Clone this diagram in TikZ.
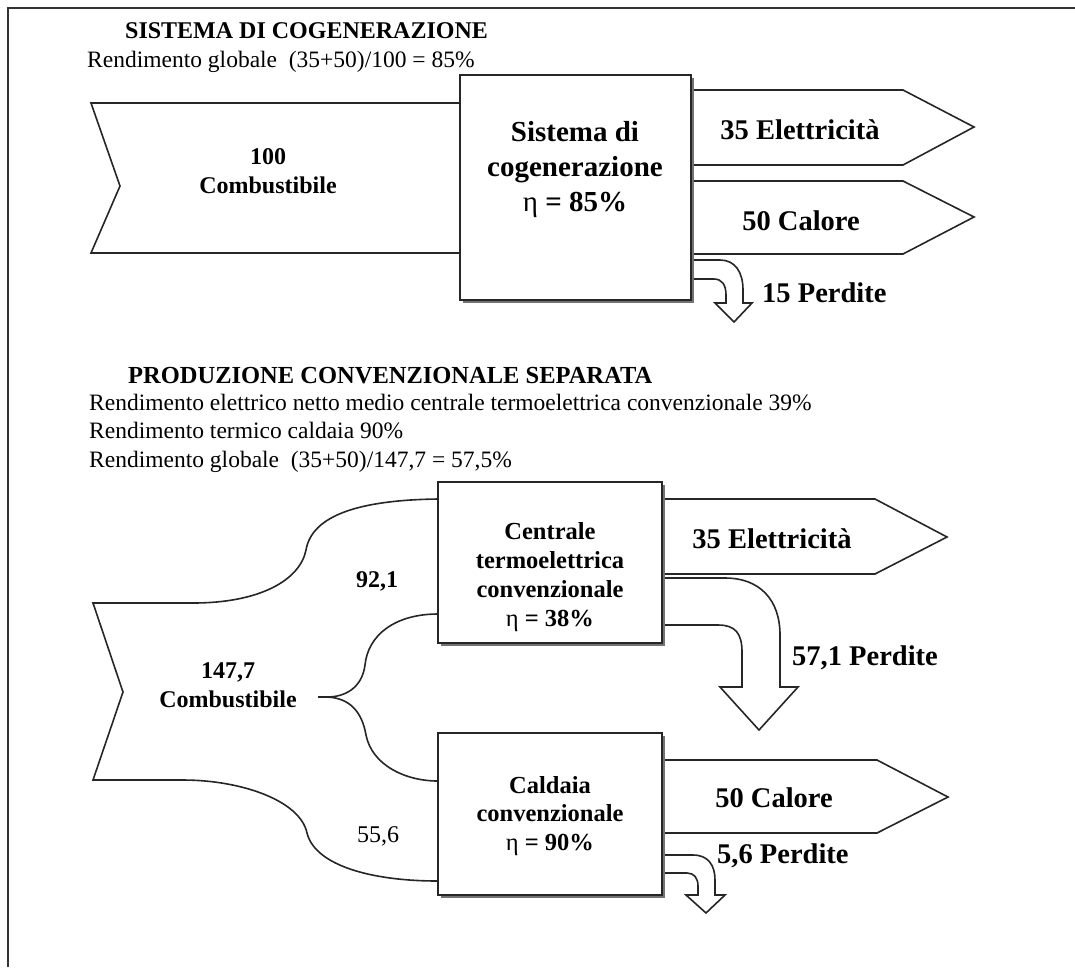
\documentclass[tikz,border=0pt]{standalone}
\usepackage{fontspec}
\setmainfont{Liberation Serif}
\usepackage{tikz}
\usetikzlibrary{positioning}
\usetikzlibrary{shadows}
\usetikzlibrary{calc}

\begin{document}
\begin{tikzpicture}[x=1pt, y=-1pt,
		band/.style={draw=black!85, line width=1.6pt, fill=white, line join=miter},
		box/.style={draw=black!85, line width=1.5pt, fill=white, inner sep=0pt,
			drop shadow={shadow xshift=2.5pt, shadow yshift=-3pt, fill=black!55, opacity=1}},
		boxtext/.style={align=center, inner sep=0pt, font=\bfseries\fontsize{24.5}{29}\selectfont},
		flowtext/.style={anchor=base, inner sep=0pt, font=\bfseries\fontsize{28.5}{34}\selectfont},
		headtext/.style={anchor=base west, inner sep=0pt, font=\bfseries\fontsize{24}{29}\selectfont},
		infotext/.style={anchor=base west, inner sep=0pt, font=\fontsize{23.5}{28}\selectfont}]
	\useasboundingbox (0,0) rectangle (1075,967);
	\draw[line width=2pt, black!80] (8,967) -- (8,8) -- (1075,8);

	\node[headtext] (head1) at (125,38) {SISTEMA DI COGENERAZIONE};
	\node[infotext] (info1) at (87,67) {Rendimento globale\ \ (35+50)/100 = 85\%};

	\draw[band] (460,103) -- (91,103) -- (120,186) -- (91,253) -- (460,253);
	\draw[band] (691,90) -- (903,90) -- (974,127) -- (903,165) -- (691,165);
	\draw[band] (691,181) -- (903,181) -- (974,217) -- (903,254) -- (691,254);
	\draw[band] (691,260) -- (720,260) .. controls (735,260) and (743,272) .. (743,290) -- (743,303)
		-- (752,303) -- (734,322) -- (715,303) -- (726,303) -- (726,295)
		.. controls (726,285) and (722,279) .. (714,279) -- (691,279);

	\node[box, minimum width=231pt, minimum height=225pt] (cogen) at (575.5,187.5) {};
	\node[boxtext, font=\bfseries\fontsize{29}{35}\selectfont] (cogentext) at (575,170) {Sistema di\\cogenerazione\\{\mdseries η} = 85\%};
	\node[boxtext, font=\bfseries\fontsize{24}{29}\selectfont] (fuel1) at (268,171) {100\\Combustibile};
	\node[flowtext] (elettr1) at (800,139) {35 Elettricità};
	\node[flowtext] (calore1) at (801,230) {50 Calore};
	\node[flowtext, anchor=base west] (perdite1) at (762,302) {15 Perdite};

	\node[headtext, font=\bfseries\fontsize{24.5}{29}\selectfont] (head2) at (128,383) {PRODUZIONE CONVENZIONALE SEPARATA};
	\node[infotext] (info2) at (89,410) {Rendimento elettrico netto medio centrale termoelettrica convenzionale 39\%};
	\node[infotext] (info3) at (89,438) {Rendimento termico caldaia 90\%};
	\node[infotext] (info4) at (89,467) {Rendimento globale\ \ (35+50)/147,7 = 57,5\%};

	\draw[band] (438,499) .. controls (360,500) and (312,515) .. (306,550)
		.. controls (300,580) and (260,603) .. (193,603) -- (93,603) -- (123,692) -- (93,780) -- (183,780)
		.. controls (240,780) and (300,800) .. (307,833)
		.. controls (315,865) and (370,881) .. (438,881);
	\draw[band] (438,614) .. controls (395,614) and (368,635) .. (365,665)
		.. controls (362,688) and (345,697) .. (327,697)
		.. controls (350,698) and (362,712) .. (366,735)
		.. controls (372,765) and (405,781) .. (438,781);
	\draw[band] (327,697) -- (318,697);

	\draw[band] (662,499) -- (875,499) -- (947,537) -- (875,574) -- (662,574);
	\draw[band] (662,578) -- (725,578) .. controls (760,578) and (780,600) .. (780,635) -- (780,687)
		-- (798,687) -- (759,730) -- (720,687) -- (742,687) -- (742,652)
		.. controls (742,633) and (735,625) .. (718,625) -- (662,625);
	\draw[band] (662,760) -- (877,760) -- (948,797) -- (877,833) -- (662,833);
	\draw[band] (662,855) -- (693,855) .. controls (708,855) and (715,865) .. (715,880) -- (715,895)
		-- (725,895) -- (706,913) -- (686,895) -- (698,895) -- (698,886)
		.. controls (698,878) and (694,873) .. (687,873) -- (662,873);

	\node[box, minimum width=224pt, minimum height=161pt] (central) at (550,562.5) {};
	\node[boxtext] (centraltext) at (550,577) {Centrale\\termoelettrica\\convenzionale\\{\mdseries η} = 38\%};
	\node[box, minimum width=224pt, minimum height=162pt] (caldaia) at (550,814) {};
	\node[boxtext, font=\bfseries\fontsize{24.5}{28.5}\selectfont] (caldaiatext) at (550,816) {Caldaia\\convenzionale\\{\mdseries η} = 90\%};

	\node[boxtext, font=\bfseries\fontsize{24}{29}\selectfont] (fuel2) at (228,685) {147,7\\Combustibile};
	\node[flowtext, font=\bfseries\fontsize{24}{29}\selectfont] (share1) at (377,587) {92,1};
	\node[flowtext, font=\fontsize{24}{29}\selectfont] (share2) at (378,842) {55,6};
	\node[flowtext] (elettr2) at (772,548) {35 Elettricità};
	\node[flowtext, anchor=base west] (perdite2) at (792,665) {57,1 Perdite};
	\node[flowtext] (calore2) at (774,807) {50 Calore};
	\node[flowtext, anchor=base west] (perdite3) at (717,863) {5,6 Perdite};
\end{tikzpicture}
\end{document}
